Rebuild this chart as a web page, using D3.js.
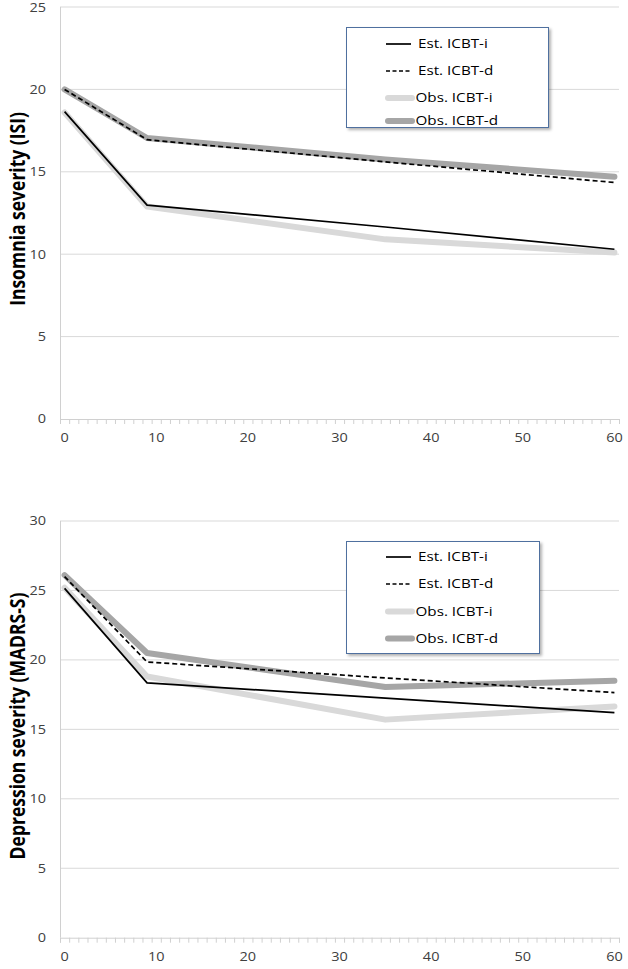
<!DOCTYPE html>
<html><head><meta charset="utf-8">
<script src="https://cdn.jsdelivr.net/npm/d3@7"></script>
<style>body{margin:0;background:#fff}svg{display:block}</style>
</head><body>
<svg id="c" width="628" height="969"></svg>
<script>
const timepoints = [0, 9, 35, 60];
const xTickLabels = [0, 10, 20, 30, 40, 50, 60];
const legendLabels = ["Est. ICBT-i", "Est. ICBT-d", "Obs. ICBT-i", "Obs. ICBT-d"];

const isiEstI = [18.65, 12.98, 11.65, 10.3];
const isiEstD = [20.0, 16.95, 15.6, 14.35];
const isiObsI = [18.6, 12.9, 10.9, 10.1];
const isiObsD = [20.0, 17.05, 15.75, 14.7];
const isiTicks = [0, 5, 10, 15, 20, 25];

const madrsEstI = [25.15, 18.35, 17.25, 16.2];
const madrsEstD = [26.0, 19.85, 18.7, 17.65];
const madrsObsI = [25.2, 18.8, 15.7, 16.65];
const madrsObsD = [26.1, 20.5, 18.05, 18.5];
const madrsTicks = [0, 5, 10, 15, 20, 25, 30];

const svg = d3.select("#c");
const font = "'Open Sans', sans-serif";
const SX = 1.16;  // horizontal stretch of the reference's text
const x = d3.scaleLinear().domain([-0.5, 60.5]).range([60, 619]);

const styles = {
  estI: {stroke: "#000", width: 1.7, dash: null, cap: "butt"},
  estD: {stroke: "#000", width: 1.7, dash: "5,3", cap: "butt"},
  obsI: {stroke: "#d9d9d9", width: 6, dash: null, cap: "round"},
  obsD: {stroke: "#a6a6a6", width: 6, dash: null, cap: "round"}
};

const defs = svg.append("defs");
const f = defs.append("filter").attr("id", "sh").attr("x", "-10%").attr("y", "-10%").attr("width", "130%").attr("height", "130%");
f.append("feDropShadow").attr("dx", 2).attr("dy", 2).attr("stdDeviation", 1.5).attr("flood-color", "#000").attr("flood-opacity", 0.3);

function panel(cfg) {
  const y = d3.scaleLinear().domain([0, cfg.max]).range([cfg.y0, cfg.y1]);
  const g = svg.append("g");
  g.append("g").selectAll("line").data(cfg.ticks.filter(t => t > 0)).join("line")
    .attr("x1", 60).attr("x2", 619).attr("y1", d => y(d)).attr("y2", d => y(d))
    .attr("stroke", "#d9d9d9").attr("stroke-width", 1);
  g.append("line").attr("x1", 60.5).attr("x2", 60.5).attr("y1", y(cfg.max)).attr("y2", y(0))
    .attr("stroke", "#d0d0d0");
  g.append("g").selectAll("text").data(cfg.ticks).join("text")
    .attr("transform", d => `translate(46,${Math.max(y(d), 7.5)}) scale(${SX},1)`)
    .attr("dy", "0.35em").attr("text-anchor", "end")
    .attr("font-family", font).attr("font-size", 12.5).attr("fill", "#404040").text(d => d);
  const xa = d3.axisBottom(x).tickValues(d3.range(-0.5, 61, 1)).tickSize(5).tickFormat("");
  const ax = g.append("g").attr("transform", `translate(0,${y(0)})`).call(xa);
  ax.select(".domain").attr("stroke", "#d0d0d0");
  ax.selectAll(".tick line").attr("stroke", "#d0d0d0");
  g.append("g").selectAll("text").data(xTickLabels).join("text")
    .attr("transform", d => `translate(${x(d)},${y(0) + 18.5}) scale(${SX},1)`)
    .attr("dy", "0.35em").attr("text-anchor", "middle")
    .attr("font-family", font).attr("font-size", 12.5).attr("fill", "#404040").text(d => d);
  g.append("text").attr("transform", `translate(17.5,${cfg.titleY}) scale(1.22,1) rotate(-90)`)
    .attr("dy", "0.35em").attr("text-anchor", "middle")
    .attr("font-family", font).attr("font-weight", "bold").attr("font-size", 17.5).attr("fill", "#000")
    .text(cfg.title);
  const line = d3.line().x((d, i) => x(timepoints[i])).y(d => y(d));
  const series = [["obsI", cfg.obsI], ["obsD", cfg.obsD], ["estI", cfg.estI], ["estD", cfg.estD]];
  series.forEach(([k, v]) => {
    const s = styles[k];
    g.append("path").datum(v).attr("d", line).attr("fill", "none")
      .attr("stroke", s.stroke).attr("stroke-width", s.width)
      .attr("stroke-linecap", s.cap).attr("stroke-linejoin", "round")
      .attr("stroke-dasharray", s.dash);
  });
  const L = cfg.legend;
  g.append("rect").attr("x", L.x).attr("y", L.y).attr("width", L.w).attr("height", L.h)
    .attr("fill", "#fff").attr("stroke", "#4f6f9f").attr("stroke-width", 1).attr("filter", "url(#sh)");
  const keys = ["estI", "estD", "obsI", "obsD"];
  keys.forEach((k, i) => {
    const s = styles[k];
    const yy = L.rows[i];
    const isObs = k.startsWith("obs");
    g.append("line").attr("x1", isObs ? 388 : 386).attr("x2", isObs ? 412 : 411)
      .attr("y1", yy).attr("y2", yy)
      .attr("stroke", s.stroke).attr("stroke-width", isObs ? 6 : 1.7)
      .attr("stroke-linecap", s.cap).attr("stroke-dasharray", s.dash ? "4,2.5" : null);
    g.append("text").attr("transform", `translate(${isObs ? 415.5 : 418},${yy}) scale(1.19,1)`)
      .attr("dy", "0.35em")
      .attr("font-family", font).attr("font-size", 12.8).attr("fill", "#000").text(legendLabels[i]);
  });
}

panel({max: 25, y0: 419, y1: 7, ticks: isiTicks, title: "Insomnia severity (ISI)", titleY: 209,
  estI: isiEstI, estD: isiEstD, obsI: isiObsI, obsD: isiObsD,
  legend: {x: 346.5, y: 27.5, w: 202, h: 100, rows: [44, 71, 98, 121]}});

panel({max: 30, y0: 937.7, y1: 521, ticks: madrsTicks, title: "Depression severity (MADRS-S)", titleY: 726,
  estI: madrsEstI, estD: madrsEstD, obsI: madrsObsI, obsD: madrsObsD,
  legend: {x: 346.5, y: 541.5, w: 193, h: 112, rows: [557, 584, 611.5, 638.5]}});
</script>
</body></html>
